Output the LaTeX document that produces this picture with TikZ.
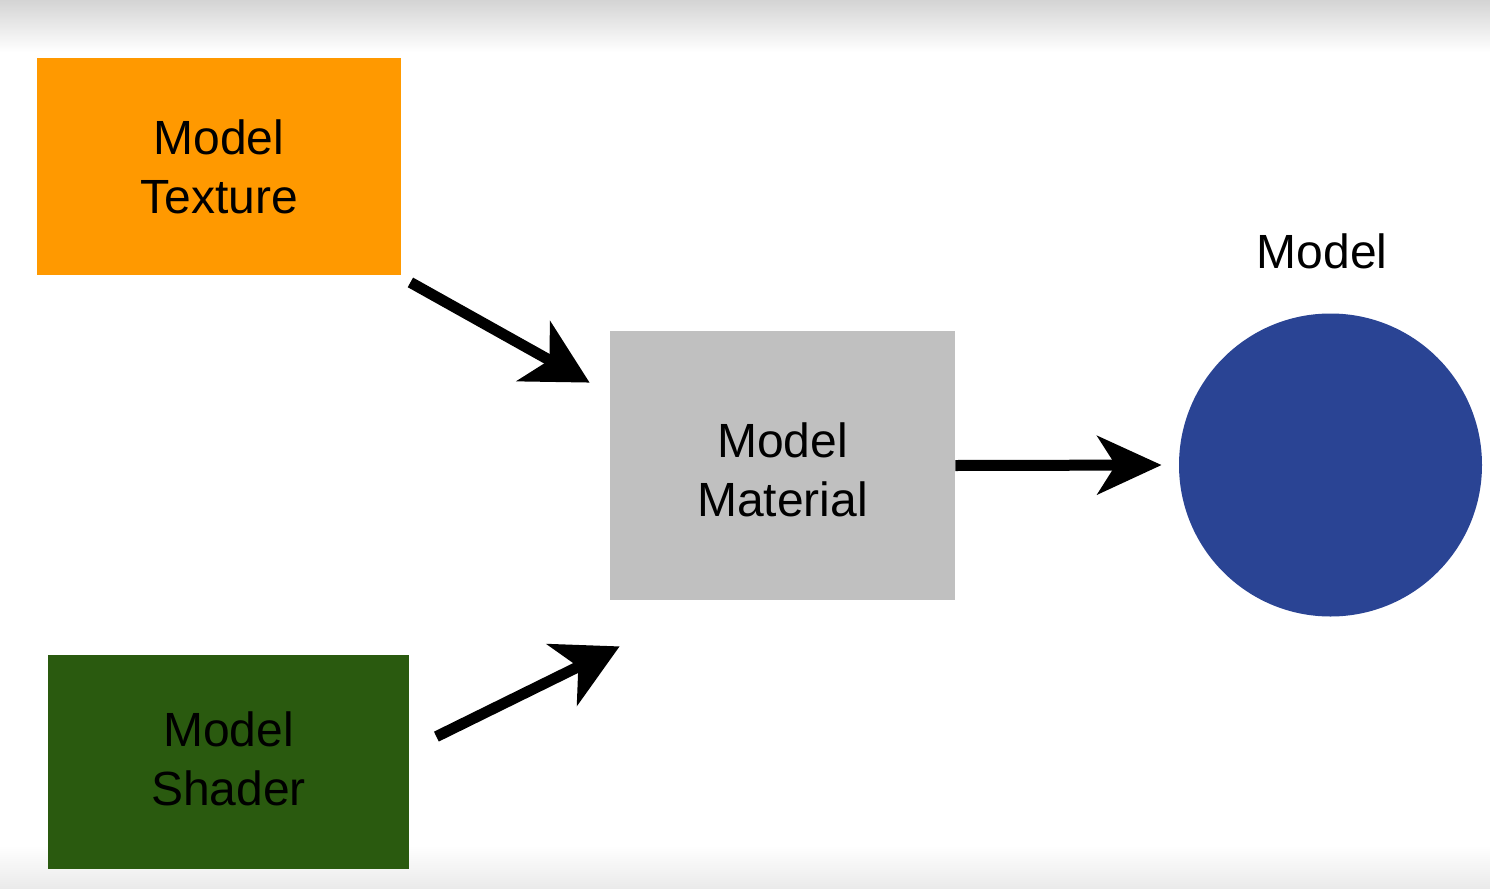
\documentclass[tikz,border=0pt]{standalone}
\usepackage{fontspec}
\setmainfont{Liberation Sans}
\usetikzlibrary{arrows.meta}
\definecolor{texorange}{HTML}{FF9900}
\definecolor{matgray}{HTML}{C0C0C0}
\definecolor{shagreen}{HTML}{2A5A0F}
\definecolor{modblue}{HTML}{2A4494}
\definecolor{topgray}{HTML}{D4D4D4}
\definecolor{botgray}{HTML}{EAEAEA}
\tikzset{
  boxnode/.style={rectangle, inner sep=0pt, align=center, font=\fontsize{24}{29.5}\selectfont, text=black},
  bigarrow/.style={line width=5.5pt, -{Stealth[length=32pt, width=#1, inset=9pt]}},
  bigarrow/.default=32pt
}
\begin{document}
\begin{tikzpicture}[x=0.5pt, y=-0.5pt]
\useasboundingbox (0,0) rectangle (1490,889);
\fill[white] (0,0) rectangle (1490,889);
\shade[top color=topgray, bottom color=white] (0,0) rectangle (1490,52);
\shade[top color=white, bottom color=botgray] (0,845) rectangle (1490,889);

\node[boxnode, fill=texorange, minimum width=182pt, minimum height=108.5pt] (tex) at (219,166.5) {Model\\Texture};
\node[boxnode, fill=matgray, minimum width=172.5pt, minimum height=134.5pt] (mat) at (782.5,465.5) {};
\node[boxnode] (matlabel) at (782.5,469.5) {Model\\Material};
\node[boxnode, fill=shagreen, minimum width=180.5pt, minimum height=107pt] (sha) at (228.5,762) {};
\node[boxnode] (shalabel) at (228.5,758.5) {Model\\Shader};
\node[circle, fill=modblue, inner sep=0pt, minimum size=151.5pt] (mod) at (1330.5,465) {};
\node[boxnode] (modlabel) at (1322,251) {Model};

\draw[bigarrow=34pt] ([shift={(9,7)}]tex.south east) -- ([shift={(-20,52)}]mat.north west);
\draw[bigarrow=34pt] ([shift={(27,82)}]sha.north east) -- ([shift={(10,46)}]mat.south west);
\draw[bigarrow=29pt, shorten >=8.5pt] (mat.east) -- (mod.west);
\end{tikzpicture}
\end{document}
